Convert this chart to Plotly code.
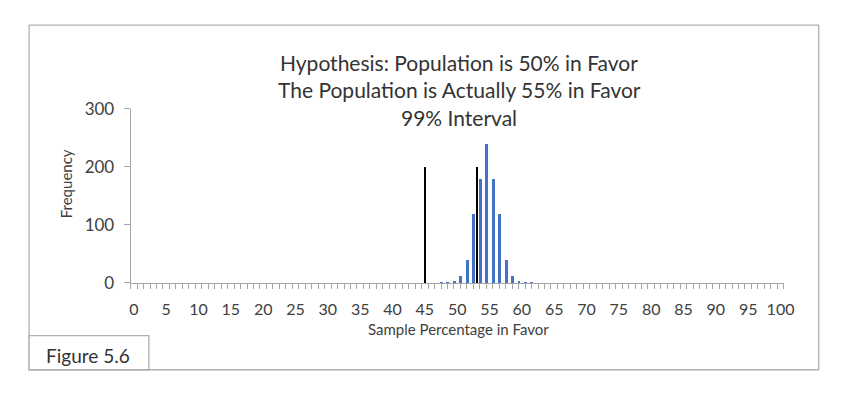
import plotly.graph_objects as go

# Data
hist_categories = list(range(48, 63))
hist_counts = [1, 2, 4, 12, 40, 120, 180, 240, 180, 120, 40, 12, 4, 2, 1]
interval_bounds = [45, 53]
interval_heights = [200, 200]
x_tick_labels = list(range(0, 101, 5))
y_tick_values = [0, 100, 200, 300]
title_lines = ["Hypothesis: Population is 50% in Favor",
               "The Population is Actually 55% in Favor",
               "99% Interval"]

W, H = 848, 393
FONT = "Lato"
AX = "#a6a6a6"
TXT = "#404040"

def px(x):
    return x / W

def py(y):
    return 1 - y / H

fig = go.Figure()
fig.add_trace(go.Bar(x=hist_categories, y=hist_counts, width=0.45, offset=-0.725,
                     marker=dict(color="#4472C4", line=dict(width=0)), showlegend=False))
fig.add_trace(go.Bar(x=interval_bounds, y=interval_heights, width=0.38,
                     marker=dict(color="#000000", line=dict(width=0)), showlegend=False))

shapes = [
    dict(type="rect", xref="paper", yref="paper", x0=px(28.5), x1=px(829.5), y0=py(379), y1=py(15),
         line=dict(color="#b0b0b0", width=1.3), fillcolor="rgba(0,0,0,0)", layer="below"),
    dict(type="rect", xref="paper", yref="paper", x0=px(28.5), x1=px(150), y0=py(379), y1=py(343),
         line=dict(color="#b0b0b0", width=1.3), fillcolor="white"),
]

annotations = []
for i, line in enumerate(title_lines):
    annotations.append(dict(text=line, xref="paper", yref="paper", x=px(465), y=py(54 + 29 * i),
                            showarrow=False, xanchor="center", yanchor="middle",
                            font=dict(family=FONT, size=21, color="#333333")))
annotations.append(dict(text="Figure 5.6", xref="paper", yref="paper", x=px(88), y=py(364),
                        showarrow=False, xanchor="center", yanchor="middle",
                        font=dict(family=FONT, size=19, color="#333333")))
annotations.append(dict(text="Frequency", xref="paper", yref="paper", x=px(66), y=py(183),
                        showarrow=False, xanchor="center", yanchor="middle", textangle=-90,
                        font=dict(family=FONT, size=15, color=TXT)))
annotations.append(dict(text="Sample Percentage in Favor", xref="paper", yref="paper", x=px(464), y=py(336),
                        showarrow=False, xanchor="center", yanchor="middle",
                        font=dict(family=FONT, size=15, color=TXT)))

fig.update_layout(
    width=W, height=H,
    margin=dict(l=0, r=0, t=0, b=0),
    paper_bgcolor="white", plot_bgcolor="white",
    bargap=0, barmode="overlay",
    shapes=shapes, annotations=annotations,
    font=dict(family=FONT, color=TXT),
    xaxis=dict(domain=[px(131.5), px(794)], range=[-0.5, 100.5],
               tickmode="array", tickvals=x_tick_labels, ticktext=[str(v) for v in x_tick_labels],
               ticks="", showgrid=False, zeroline=False, ticklabelstandoff=12,
               showline=True, linecolor=AX, linewidth=1,
               tickfont=dict(size=16, color=TXT),
               minor=dict(ticks="outside", tick0=-0.5, dtick=1, ticklen=5, tickcolor=AX, tickwidth=1, showgrid=False)),
    yaxis=dict(domain=[py(287.3), py(103.3)], range=[0, 300],
               tickmode="array", tickvals=y_tick_values,
               ticks="outside", ticklen=6, tickcolor=AX, tickwidth=1,
               showgrid=False, zeroline=False, ticklabelstandoff=6,
               showline=True, linecolor=AX, linewidth=1,
               tickfont=dict(size=17, color=TXT)),
)

fig.write_html("out.html", config={"responsive": False, "displayModeBar": False},
               post_script="document.body.style.margin='0px';document.body.style.overflow='hidden';")
